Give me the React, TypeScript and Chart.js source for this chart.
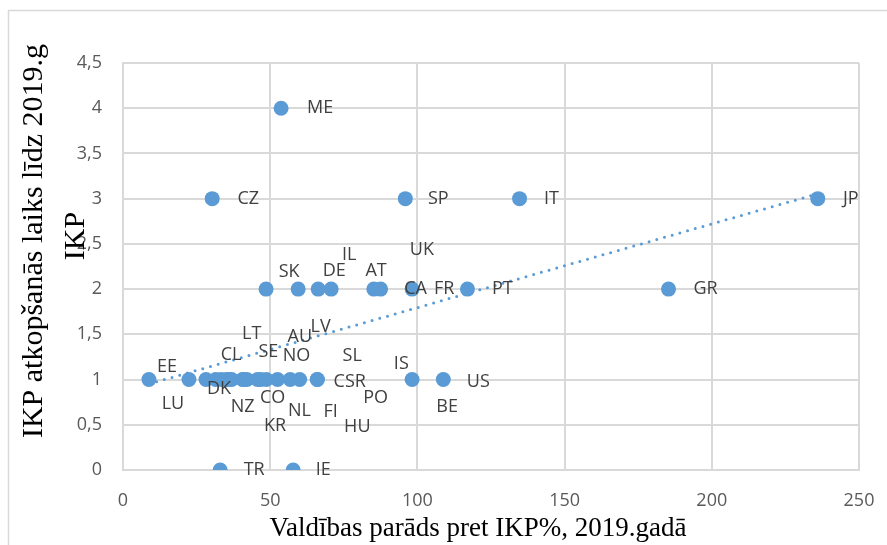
import React, { useEffect, useRef } from "react";
import { Chart, registerables } from "chart.js";

Chart.register(...registerables);

// ---- data ----
const countries = [
  "EE", "LU", "CL", "NZ", "DK", "SE", "LT", "LV", "NO", "CSR", "KR", "PO", "AU", "NL", "CO", "SL", "FI", "HU", "IS", "BE", "US",
  "SK", "DE", "IL", "AT", "UK", "CA", "FR", "PT", "GR",
  "CZ", "SP", "IT", "JP",
  "ME",
  "TR", "IE",
];
const debtToGdp = [
  8.8, 22.4, 28.2, 31.5, 33.3, 35.1, 35.9, 36.9, 40.6, 41.0, 42.1, 45.7, 46.8, 48.7, 52.5, 56.8, 60.0, 66.0, 66.0, 98.2, 108.8,
  48.6, 59.5, 66.3, 70.7, 85.2, 87.5, 98.2, 117.0, 185.3,
  30.3, 95.9, 134.7, 236.0,
  53.7,
  33.0, 57.8,
];
const recoveryYears = [
  1, 1, 1, 1, 1, 1, 1, 1, 1, 1, 1, 1, 1, 1, 1, 1, 1, 1, 1, 1, 1,
  2, 2, 2, 2, 2, 2, 2, 2, 2,
  3, 3, 3, 3,
  4,
  0, 0,
];
const xTicks = [0, 50, 100, 150, 200, 250];
const yTicks = [0, 0.5, 1, 1.5, 2, 2.5, 3, 3.5, 4, 4.5];
const xTitle = "Valdības parāds pret IKP%, 2019.gadā";
const yTitleLines = ["IKP atkopšanās laiks līdz 2019.g", "IKP"];

// label offsets (layout, px) relative to each point
const labelDx = [
  18, -16, 25, 27, -2, 42, 23, 89, 54, 106, 28, 118, 39, 33, -5, 62, 31, 40, 84, 35, 35,
  23, 36, 31, 45, 48, 35, 32, 35, 37,
  36, 33, 32, 33,
  39,
  34, 30,
];
const labelDy = [
  -13, 24, -25, 27, 9, -28, -46, -53, -24, 2, 46, 18, -43, 31, 18, -24, 32, 47, -16, 27, 2,
  -17, -18, -34, -18, -39, 0, 0, 0, 0,
  0, 0, 0, 0,
  0,
  0, 0,
];

const BLUE = "#5b9bd5";
const GRID = "#d9d9d9";

function regression(xs: number[], ys: number[]) {
  const n = xs.length;
  let sx = 0, sy = 0, sxx = 0, sxy = 0;
  for (let i = 0; i < n; i++) {
    sx += xs[i]; sy += ys[i]; sxx += xs[i] * xs[i]; sxy += xs[i] * ys[i];
  }
  const b = (n * sxy - sx * sy) / (n * sxx - sx * sx);
  const a = (sy - b * sx) / n;
  return { a, b };
}

export default function App() {
  const ref = useRef<HTMLCanvasElement | null>(null);

  useEffect(() => {
    if (!ref.current) return;
    const points = countries.map((_, i) => ({ x: debtToGdp[i], y: recoveryYears[i] }));
    const { a, b } = regression(debtToGdp, recoveryYears);
    const xMin = Math.min(...debtToGdp);
    const xMax = Math.max(...debtToGdp);
    const trend = [
      { x: xMin, y: a + b * xMin },
      { x: xMax, y: a + b * xMax },
    ];

    const overlay = {
      id: "overlay",
      beforeDraw(chart: any) {
        const ctx = chart.ctx;
        ctx.save();
        ctx.fillStyle = "#ffffff";
        ctx.fillRect(0, 0, chart.width, chart.height);
        ctx.strokeStyle = GRID;
        ctx.lineWidth = 1.5;
        ctx.strokeRect(8.5, 10.5, 950, 600);
        ctx.restore();
      },
      afterDraw(chart: any) {
        const ctx = chart.ctx;
        const meta = chart.getDatasetMeta(1);
        ctx.save();
        ctx.font = '18px "Open Sans"';
        ctx.fillStyle = "#404040";
        ctx.textAlign = "center";
        ctx.textBaseline = "middle";
        meta.data.forEach((el: any, i: number) => {
          ctx.fillText(countries[i], el.x + labelDx[i], el.y + labelDy[i]);
        });
        // axis titles
        ctx.fillStyle = "#000000";
        ctx.textBaseline = "alphabetic";
        ctx.font = '27px "Liberation Serif"';
        ctx.fillText(xTitle, 478, 536);
        ctx.font = '30px "Liberation Serif"';
        ctx.save();
        ctx.translate(42, 241);
        ctx.rotate(-Math.PI / 2);
        ctx.fillText(yTitleLines[0], 0, 0);
        ctx.restore();
        ctx.save();
        ctx.translate(84, 236);
        ctx.rotate(-Math.PI / 2);
        ctx.fillText(yTitleLines[1], 0, 0);
        ctx.restore();
        ctx.restore();
      },
    };

    const chart = new Chart(ref.current, {
      type: "scatter",
      data: {
        datasets: [
          {
            type: "line",
            data: trend,
            borderColor: BLUE,
            borderWidth: 3,
            borderDash: [0, 8],
            borderCapStyle: "round",
            pointRadius: 0,
            fill: false,
            showLine: true,
          } as any,
          {
            data: points,
            backgroundColor: BLUE,
            borderWidth: 0,
            pointRadius: 7.5,
            pointHoverRadius: 7.5,
          },
        ],
      },
      options: {
        animation: false,
        responsive: false,
        maintainAspectRatio: false,
        events: [],
        layout: { padding: { left: 43, right: 28, top: 63, bottom: 35 } },
        plugins: { legend: { display: false }, tooltip: { enabled: false } },
        scales: {
          x: {
            type: "linear",
            min: 0,
            max: 250,
            afterFit: (s: any) => { s.height = 40; s.paddingLeft = 0; s.paddingRight = 0; },
            afterBuildTicks: (s: any) => { s.ticks = xTicks.map((v) => ({ value: v })); },
            grid: { color: GRID, lineWidth: 2, drawTicks: false },
            border: { color: GRID, width: 2 },
            ticks: {
              padding: 20,
              color: "#595959",
              font: { family: "Open Sans", size: 18 },
              callback: (v: any) => String(v),
            },
          },
          y: {
            type: "linear",
            min: 0,
            max: 4.5,
            afterFit: (s: any) => { s.width = 80; s.paddingTop = 0; s.paddingBottom = 0; },
            afterBuildTicks: (s: any) => { s.ticks = yTicks.map((v) => ({ value: v })); },
            grid: { color: GRID, lineWidth: 2, drawTicks: false },
            border: { color: GRID, width: 2 },
            ticks: {
              padding: 21,
              color: "#595959",
              font: { family: "Open Sans", size: 18 },
              callback: (v: any) => String(v).replace(".", ","),
            },
          },
        },
      },
      plugins: [overlay],
    } as any);
    return () => chart.destroy();
  }, []);

  return (
    <div style={{ position: "fixed", left: 0, top: 0, width: 887, height: 545 }}>
      <canvas ref={ref} width={887} height={545} style={{ display: "block", width: 887, height: 545 }} />
    </div>
  );
}
